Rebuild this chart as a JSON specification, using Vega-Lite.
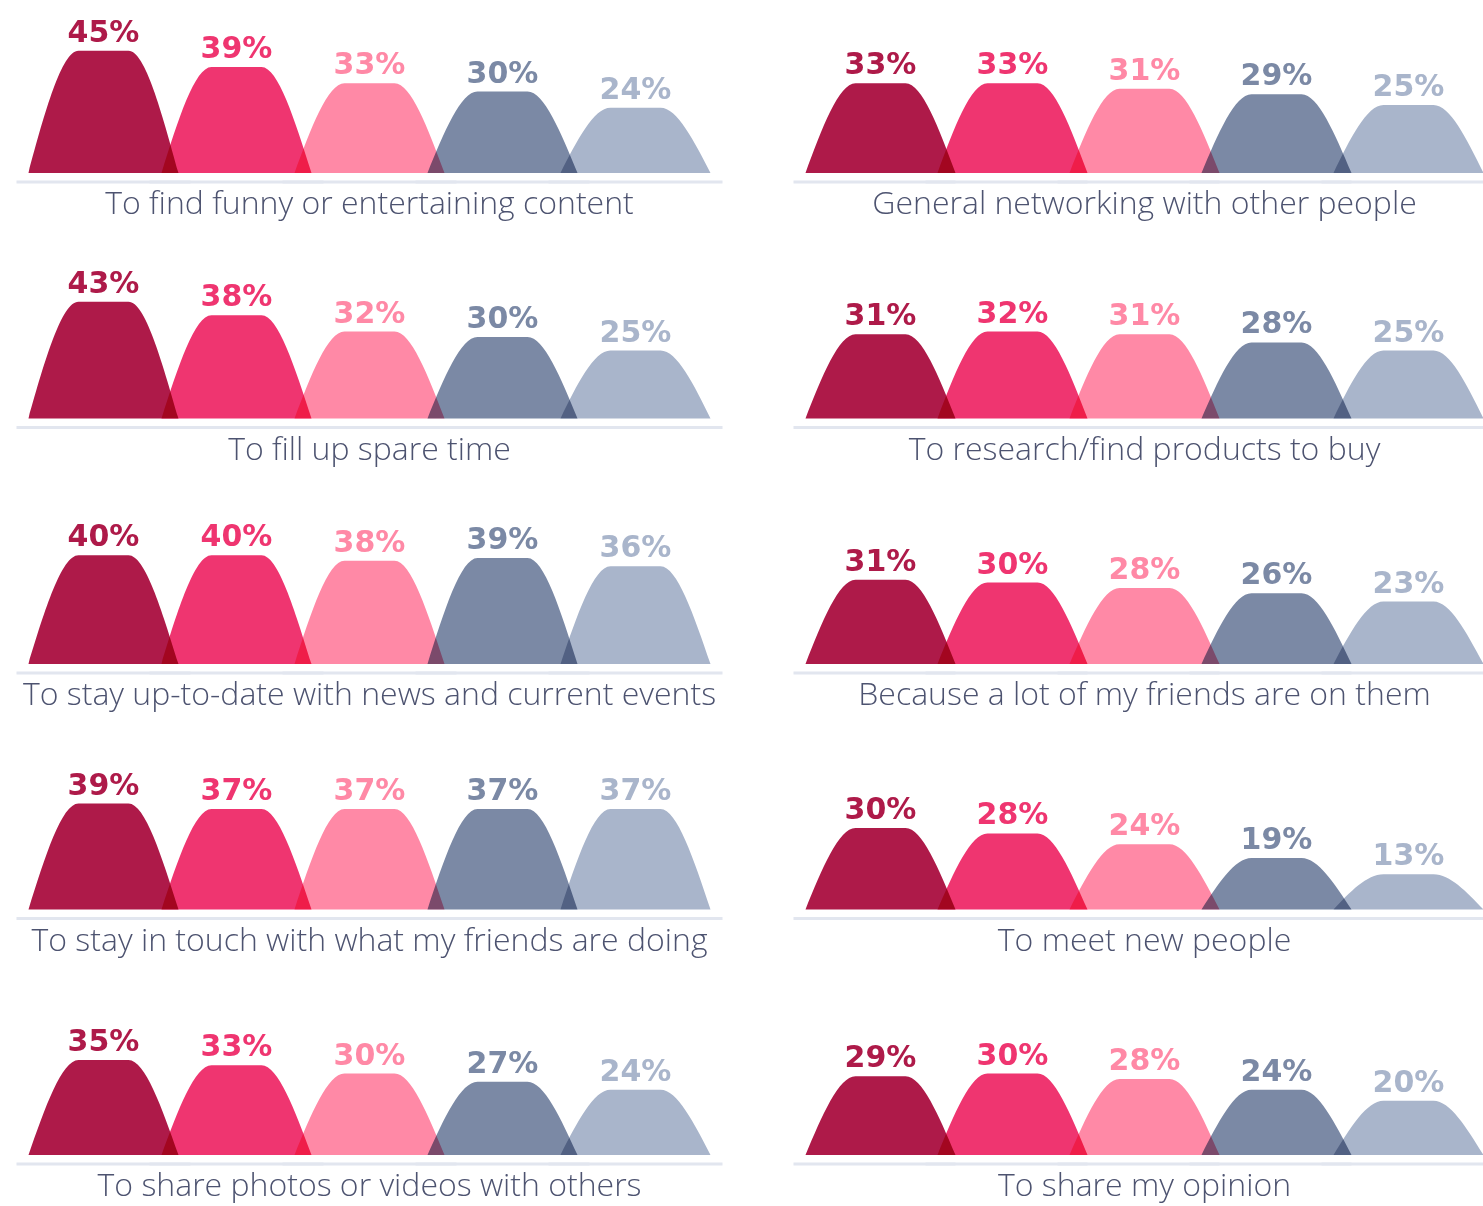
{
  "$schema": "https://vega.github.io/schema/vega-lite/v6.json",
  "padding": {"left": 15, "top": 10, "right": 0, "bottom": 3},
  "background": "white",
  "data": {
    "values": [
      {"category": "To find funny or entertaining content", "series": "16-24", "value": 0.45},
      {"category": "To find funny or entertaining content", "series": "25-34", "value": 0.39},
      {"category": "To find funny or entertaining content", "series": "35-44", "value": 0.33},
      {"category": "To find funny or entertaining content", "series": "45-54", "value": 0.30},
      {"category": "To find funny or entertaining content", "series": "55-64", "value": 0.24},
      {"category": "To fill up spare time", "series": "16-24", "value": 0.43},
      {"category": "To fill up spare time", "series": "25-34", "value": 0.38},
      {"category": "To fill up spare time", "series": "35-44", "value": 0.32},
      {"category": "To fill up spare time", "series": "45-54", "value": 0.30},
      {"category": "To fill up spare time", "series": "55-64", "value": 0.25},
      {"category": "To stay up-to-date with news and current events", "series": "16-24", "value": 0.40},
      {"category": "To stay up-to-date with news and current events", "series": "25-34", "value": 0.40},
      {"category": "To stay up-to-date with news and current events", "series": "35-44", "value": 0.38},
      {"category": "To stay up-to-date with news and current events", "series": "45-54", "value": 0.39},
      {"category": "To stay up-to-date with news and current events", "series": "55-64", "value": 0.36},
      {"category": "To stay in touch with what my friends are doing", "series": "16-24", "value": 0.39},
      {"category": "To stay in touch with what my friends are doing", "series": "25-34", "value": 0.37},
      {"category": "To stay in touch with what my friends are doing", "series": "35-44", "value": 0.37},
      {"category": "To stay in touch with what my friends are doing", "series": "45-54", "value": 0.37},
      {"category": "To stay in touch with what my friends are doing", "series": "55-64", "value": 0.37},
      {"category": "To share photos or videos with others", "series": "16-24", "value": 0.35},
      {"category": "To share photos or videos with others", "series": "25-34", "value": 0.33},
      {"category": "To share photos or videos with others", "series": "35-44", "value": 0.30},
      {"category": "To share photos or videos with others", "series": "45-54", "value": 0.27},
      {"category": "To share photos or videos with others", "series": "55-64", "value": 0.24},
      {"category": "General networking with other people", "series": "16-24", "value": 0.33},
      {"category": "General networking with other people", "series": "25-34", "value": 0.33},
      {"category": "General networking with other people", "series": "35-44", "value": 0.31},
      {"category": "General networking with other people", "series": "45-54", "value": 0.29},
      {"category": "General networking with other people", "series": "55-64", "value": 0.25},
      {"category": "To research/find products to buy", "series": "16-24", "value": 0.31},
      {"category": "To research/find products to buy", "series": "25-34", "value": 0.32},
      {"category": "To research/find products to buy", "series": "35-44", "value": 0.31},
      {"category": "To research/find products to buy", "series": "45-54", "value": 0.28},
      {"category": "To research/find products to buy", "series": "55-64", "value": 0.25},
      {"category": "Because a lot of my friends are on them", "series": "16-24", "value": 0.31},
      {"category": "Because a lot of my friends are on them", "series": "25-34", "value": 0.30},
      {"category": "Because a lot of my friends are on them", "series": "35-44", "value": 0.28},
      {"category": "Because a lot of my friends are on them", "series": "45-54", "value": 0.26},
      {"category": "Because a lot of my friends are on them", "series": "55-64", "value": 0.23},
      {"category": "To meet new people", "series": "16-24", "value": 0.30},
      {"category": "To meet new people", "series": "25-34", "value": 0.28},
      {"category": "To meet new people", "series": "35-44", "value": 0.24},
      {"category": "To meet new people", "series": "45-54", "value": 0.19},
      {"category": "To meet new people", "series": "55-64", "value": 0.13},
      {"category": "To share my opinion", "series": "16-24", "value": 0.29},
      {"category": "To share my opinion", "series": "25-34", "value": 0.30},
      {"category": "To share my opinion", "series": "35-44", "value": 0.28},
      {"category": "To share my opinion", "series": "45-54", "value": 0.24},
      {"category": "To share my opinion", "series": "55-64", "value": 0.20}
    ]
  },
  "hconcat": [
    {
      "transform": [{"filter": {"field": "category", "oneOf": ["To find funny or entertaining content", "To fill up spare time", "To stay up-to-date with news and current events", "To stay in touch with what my friends are doing", "To share photos or videos with others"]}}],
      "facet": {
        "row": {"field": "category", "type": "nominal", "header": null, "sort": ["To find funny or entertaining content", "To fill up spare time", "To stay up-to-date with news and current events", "To stay in touch with what my friends are doing", "To share photos or videos with others"]},
        "column": {"field": "series", "type": "nominal", "header": null, "sort": ["16-24", "25-34", "35-44", "45-54", "55-64"]}
      },
      "spacing": {"row": 82.5, "column": 0},
      "bounds": "flush",
      "spec": {
        "width": 133,
        "height": 163,
        "layer": [
          {
            "mark": {"type": "rule", "xOffset": -12, "x2Offset": 12, "yOffset": 9, "strokeWidth": 3, "color": "#E2E6EF"},
            "encoding": {
              "x": {"datum": "a", "type": "nominal"},
              "x2": {"datum": "d"},
              "y": {"datum": 0, "type": "quantitative"}
            }
          },
          {
            "transform": [
              {"impute": "value", "key": "k", "keyvals": ["b", "c"], "groupby": ["category", "series"], "method": "max"},
              {"impute": "value", "key": "k", "keyvals": ["a", "d"], "groupby": ["category", "series"], "value": 0},
              {"filter": {"field": "k", "oneOf": ["a", "b", "c", "d"]}}
            ],
            "mark": {"type": "area", "interpolate": "monotone", "blend": "multiply"},
            "encoding": {
              "x": {"field": "k", "type": "nominal", "axis": null, "scale": {"type": "point", "domain": ["a", "p", "b", "m", "c", "q", "d"], "range": [-8.5, 141.5], "padding": 0}},
              "y": {"field": "value", "type": "quantitative", "stack": null, "axis": null, "scale": {"domain": [0, 0.6]}},
              "color": {"field": "series", "type": "nominal", "legend": null, "scale": {"domain": ["16-24", "25-34", "35-44", "45-54", "55-64"], "range": ["#AE1A49", "#EF3570", "#FF89A6", "#7B89A5", "#A9B5CB"]}}
            }
          },
          {
            "mark": {"type": "text", "font": "DejaVu Sans", "fontSize": 30, "fontWeight": "bold", "baseline": "alphabetic", "dy": -9},
            "encoding": {
              "x": {"datum": "m", "type": "nominal"},
              "y": {"field": "value", "type": "quantitative", "axis": null},
              "text": {"field": "value", "type": "quantitative", "format": ".0%"},
              "color": {"field": "series", "type": "nominal", "legend": null}
            }
          },
          {
            "transform": [{"filter": {"field": "series", "equal": "35-44"}}],
            "mark": {"type": "text", "font": "Open Sans", "fontSize": 32, "fontWeight": 300, "color": "#4D5370", "baseline": "alphabetic", "dy": 41},
            "encoding": {
              "x": {"datum": "m", "type": "nominal"},
              "y": {"datum": 0, "type": "quantitative"},
              "text": {"field": "category", "type": "nominal"}
            }
          }
        ]
      }
    },
    {
      "transform": [{"filter": {"field": "category", "oneOf": ["General networking with other people", "To research/find products to buy", "Because a lot of my friends are on them", "To meet new people", "To share my opinion"]}}],
      "facet": {
        "row": {"field": "category", "type": "nominal", "header": null, "sort": ["General networking with other people", "To research/find products to buy", "Because a lot of my friends are on them", "To meet new people", "To share my opinion"]},
        "column": {"field": "series", "type": "nominal", "header": null, "sort": ["16-24", "25-34", "35-44", "45-54", "55-64"]}
      },
      "spacing": {"row": 82.5, "column": 0},
      "bounds": "flush",
      "spec": {
        "width": 132,
        "height": 163,
        "layer": [
          {
            "mark": {"type": "rule", "xOffset": -12, "x2Offset": 0, "yOffset": 9, "strokeWidth": 3, "color": "#E2E6EF"},
            "encoding": {
              "x": {"datum": "a", "type": "nominal"},
              "x2": {"datum": "d"},
              "y": {"datum": 0, "type": "quantitative"}
            }
          },
          {
            "transform": [
              {"impute": "value", "key": "k", "keyvals": ["b", "c"], "groupby": ["category", "series"], "method": "max"},
              {"impute": "value", "key": "k", "keyvals": ["a", "d"], "groupby": ["category", "series"], "value": 0},
              {"filter": {"field": "k", "oneOf": ["a", "b", "c", "d"]}}
            ],
            "mark": {"type": "area", "interpolate": "monotone", "blend": "multiply"},
            "encoding": {
              "x": {"field": "k", "type": "nominal", "axis": null, "scale": {"type": "point", "domain": ["a", "p", "b", "m", "c", "q", "d"], "range": [-9, 141], "padding": 0}},
              "y": {"field": "value", "type": "quantitative", "stack": null, "axis": null, "scale": {"domain": [0, 0.6]}},
              "color": {"field": "series", "type": "nominal", "legend": null, "scale": {"domain": ["16-24", "25-34", "35-44", "45-54", "55-64"], "range": ["#AE1A49", "#EF3570", "#FF89A6", "#7B89A5", "#A9B5CB"]}}
            }
          },
          {
            "mark": {"type": "text", "font": "DejaVu Sans", "fontSize": 30, "fontWeight": "bold", "baseline": "alphabetic", "dy": -9},
            "encoding": {
              "x": {"datum": "m", "type": "nominal"},
              "y": {"field": "value", "type": "quantitative", "axis": null},
              "text": {"field": "value", "type": "quantitative", "format": ".0%"},
              "color": {"field": "series", "type": "nominal", "legend": null}
            }
          },
          {
            "transform": [{"filter": {"field": "series", "equal": "35-44"}}],
            "mark": {"type": "text", "font": "Open Sans", "fontSize": 32, "fontWeight": 300, "color": "#4D5370", "baseline": "alphabetic", "dy": 41},
            "encoding": {
              "x": {"datum": "m", "type": "nominal"},
              "y": {"datum": 0, "type": "quantitative"},
              "text": {"field": "category", "type": "nominal"}
            }
          }
        ]
      }
    }
  ],
  "spacing": 67.5,
  "config": {
    "view": {"stroke": null},
    "axis": {"disable": true},
    "legend": {"disable": true}
  }
}
